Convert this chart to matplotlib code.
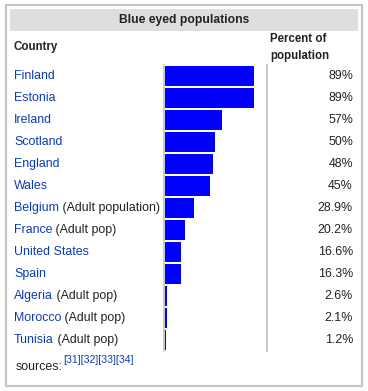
import matplotlib
matplotlib.use("Agg")
import matplotlib.pyplot as plt
from matplotlib.patches import Rectangle

title = "Blue eyed populations"
countries = ["Finland", "Estonia", "Ireland", "Scotland", "England", "Wales",
             "Belgium", "France", "United States", "Spain", "Algeria", "Morocco", "Tunisia"]
notes = ["", "", "", "", "", "", "(Adult population)", "(Adult pop)", "", "",
         "(Adult pop)", "(Adult pop)", "(Adult pop)"]
values = [89, 89, 57, 50, 48, 45, 28.9, 20.2, 16.6, 16.3, 2.6, 2.1, 1.2]
labels = ["89%", "89%", "57%", "50%", "48%", "45%", "28.9%", "20.2%", "16.6%",
          "16.3%", "2.6%", "2.1%", "1.2%"]
sources = "[31][32][33][34]"

W, H = 368, 391
plt.rcParams['font.family'] = ['Liberation Sans', 'DejaVu Sans']
fig = plt.figure(figsize=(W / 100, H / 100), dpi=100)
fig.patch.set_facecolor("white")

# overlay axes in pixel coordinates
ov = fig.add_axes([0, 0, 1, 1])
ov.set_xlim(0, W)
ov.set_ylim(H, 0)
ov.axis("off")

link = "#0a3cb4"
txt = "#222222"
fs = 8.9

ov.add_patch(Rectangle((5.5, 4.5), 356, 381, fill=False, edgecolor="#c4c4c4", lw=1.5))
ov.add_patch(Rectangle((10, 9), 348, 22, facecolor="#dedede", edgecolor="none"))
ov.text(184, 20, title, ha="center", va="center", fontsize=8.7, fontweight="bold", color=txt)
ov.text(14, 47, "Country", ha="left", va="center", fontsize=8.3, fontweight="bold", color=txt)
ov.text(270, 39, "Percent of", ha="left", va="center", fontsize=8.3, fontweight="bold", color=txt)
ov.text(270, 56, "population", ha="left", va="center", fontsize=8.3, fontweight="bold", color=txt)

row0, pitch = 75.7, 22.0
for i, (c, n, l) in enumerate(zip(countries, notes, labels)):
    y = row0 + pitch * i
    t = ov.text(14, y, c, ha="left", va="center", fontsize=fs, color=link)
    if n:
        ov.annotate(" " + n, xycoords=t, xy=(1, 0.5), ha="left", va="center",
                    fontsize=fs, color=txt)
    ov.text(353, y, l, ha="right", va="center", fontsize=fs, color=txt)

s = ov.text(16, 367, "sources:", ha="left", va="center", fontsize=fs, color=txt)
ov.annotate(sources, xycoords=s, xy=(1, 0.7), ha="left", va="bottom",
            fontsize=7.6, color=link)

# bar axes: x in percent, 1 px per percent
left_px, right_px = 163.5, 266.5
top_px, bot_px = row0 - pitch / 2, row0 + pitch * (len(countries) - 0.5)
ax = fig.add_axes([left_px / W, 1 - bot_px / H, (right_px - left_px) / W, (bot_px - top_px) / H])
ax.barh(range(len(values)), values, height=0.9, color="#0000ff", left=0)
ax.set_xlim(-1.3, 101.7)
ax.set_ylim(len(values) - 0.5, -0.5)
ax.set_xticks([])
ax.set_yticks([])
ax.patch.set_alpha(0)
for sp in ["top", "bottom"]:
    ax.spines[sp].set_visible(False)
for sp in ["left", "right"]:
    ax.spines[sp].set_color("#c0c0c0")
    ax.spines[sp].set_linewidth(1.2)

fig.savefig("out.png", dpi=100, facecolor="white")
